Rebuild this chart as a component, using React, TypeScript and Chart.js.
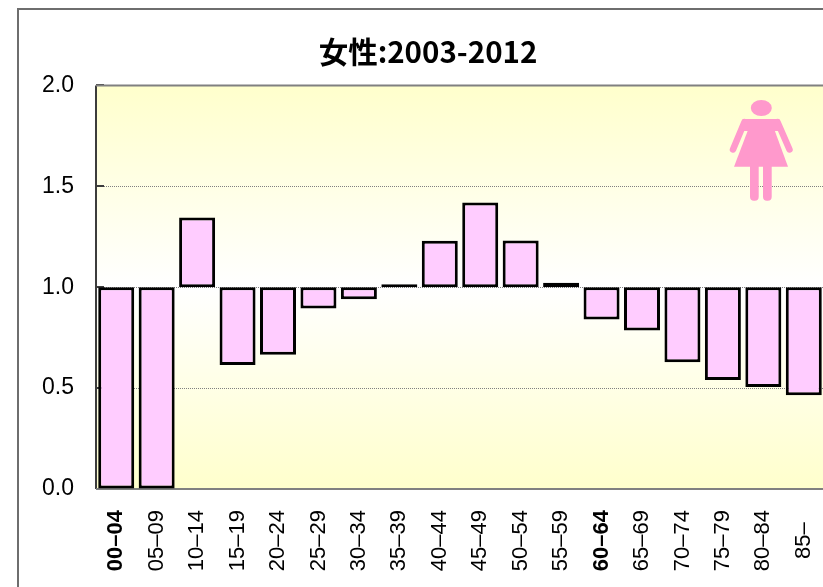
import React, { useEffect, useRef } from "react";
import { Chart, registerables } from "chart.js";

Chart.register(...registerables);

const categories = ["00–04","05–09","10–14","15–19","20–24","25–29","30–34","35–39","40–44","45–49","50–54","55–59","60–64","65–69","70–74","75–79","80–84","85–"];
const ratios = [0,0,1.345,0.615,0.665,0.895,0.94,1.015,1.23,1.42,1.232,1.022,0.84,0.785,0.628,0.54,0.505,0.465];
const baseline = 1;
const titleText = "女性:2003-2012";
const labelFont = "'Liberation Sans', Arial, sans-serif";

const decor = {
  id: "decor",
  beforeDraw(chart: any) {
    const { ctx, chartArea: a } = chart;
    ctx.save();
    ctx.fillStyle = "#ffffff";
    ctx.fillRect(0, 0, chart.width, chart.height);
    ctx.strokeStyle = "#6e6e6e";
    ctx.lineWidth = 2;
    ctx.beginPath();
    ctx.moveTo(18, chart.height);
    ctx.lineTo(18, 9);
    ctx.lineTo(chart.width, 9);
    ctx.stroke();
    const g = ctx.createLinearGradient(0, a.top, 0, a.bottom);
    g.addColorStop(0, "#ffffcc");
    g.addColorStop(0.5, "#ffffff");
    g.addColorStop(1, "#ffffcc");
    ctx.fillStyle = g;
    ctx.fillRect(a.left, a.top, a.right - a.left, a.bottom - a.top);
    ctx.restore();
  },
  beforeDatasetsDraw(chart: any) {
    const { ctx, chartArea: a, scales } = chart;
    ctx.save();
    ctx.strokeStyle = "#3c3c3c";
    ctx.lineWidth = 2;
    [0.5, 1, 1.5, 2].forEach((v) => {
      const y = Math.round(scales.y.getPixelForValue(v));
      ctx.beginPath();
      ctx.moveTo(a.left, y);
      ctx.lineTo(a.left + 8, y);
      ctx.stroke();
    });
    ctx.beginPath();
    ctx.moveTo(a.left, a.top);
    ctx.lineTo(a.left, a.bottom);
    ctx.stroke();
    ctx.strokeStyle = "#808080";
    ctx.beginPath();
    ctx.moveTo(a.left, a.top);
    ctx.lineTo(a.right, a.top);
    ctx.moveTo(a.left, a.bottom);
    ctx.lineTo(a.right, a.bottom);
    ctx.stroke();
    ctx.restore();
    // pictogram
    ctx.save();
    ctx.fillStyle = "#ff99cc";
    ctx.strokeStyle = "#ff99cc";
    ctx.beginPath();
    ctx.ellipse(761.3, 108, 10.5, 8, 0, 0, Math.PI * 2);
    ctx.fill();
    ctx.lineCap = "round";
    ctx.lineJoin = "round";
    ctx.lineWidth = 6.5;
    ctx.beginPath();
    ctx.moveTo(744.5, 122);
    ctx.lineTo(733, 149.5);
    ctx.moveTo(777.5, 122);
    ctx.lineTo(789.5, 149.5);
    ctx.stroke();
    ctx.beginPath();
    ctx.roundRect(742, 119, 38, 12, 2);
    ctx.fill();
    ctx.beginPath();
    ctx.moveTo(748, 130);
    ctx.lineTo(734, 166.7);
    ctx.lineTo(788, 166.7);
    ctx.lineTo(774.5, 130);
    ctx.closePath();
    ctx.fill();
    ctx.beginPath();
    ctx.roundRect(750, 160, 8.7, 40.7, 4);
    ctx.roundRect(763, 160, 8.7, 40.7, 4);
    ctx.fill();
    ctx.restore();
  },
};

export default function App() {
  const ref = useRef<HTMLCanvasElement>(null);
  useEffect(() => {
    const chart = new Chart(ref.current!, {
      type: "bar",
      data: {
        labels: categories,
        datasets: [
          {
            data: ratios.map((v) => [baseline, v]) as any,
            backgroundColor: "#ffccff",
            borderColor: "#000000",
            borderWidth: 3,
            borderSkipped: false,
            barPercentage: 0.89,
            categoryPercentage: 1,
          },
        ],
      },
      options: {
        responsive: false,
        animation: false,
        plugins: {
          legend: { display: false },
          tooltip: { enabled: false },
          title: {
            display: true,
            text: titleText,
            color: "#000000",
            font: { family: "'Noto Sans CJK JP', sans-serif", size: 29.5, weight: "bold" },
            padding: { top: 34, bottom: 16 },
          },
        },
        scales: {
          x: {
            offset: true,
            border: { display: false },
            grid: { display: false, drawTicks: false },
            afterFit(s: any) { s.height = 98; },
            ticks: {
              color: "#000000",
              font: (c: any) => ({ family: labelFont, size: 22, weight: c.index === 0 || c.index === 12 ? "bold" : "normal" }),
              minRotation: 90,
              maxRotation: 90,
              autoSkip: false,
              padding: 21,
              callback(this: any, _v: any, i: number) {
                const t = categories[i];
                return t.length < 5 ? t + "  " : t;
              },
            },
          },
          y: {
            min: 0,
            max: 2,
            border: { display: false, dash: [1, 1] },
            grid: {
              drawTicks: false,
              color: (c: any) => (c.tick.value === 0.5 || c.tick.value === 1.5 || c.tick.value === 1 ? "#808080" : "transparent"),
              lineWidth: 1,
            },
            afterFit(s: any) { s.width = 96; },
            ticks: {
              stepSize: 0.5,
              color: "#000000",
              padding: 22,
              font: { family: labelFont, size: 23 },
              callback: (v: any) => Number(v).toFixed(1),
            },
          },
          yRight: {
            position: "right",
            min: 0,
            max: 2,
            border: { display: false },
            grid: { display: false, drawTicks: false },
            ticks: { display: false },
            afterFit(s: any) { s.width = 32; },
          },
        },
      },
      plugins: [decor],
    });
    return () => chart.destroy();
  }, []);
  return (
    <div style={{ position: "fixed", left: 0, top: 0, width: 823, height: 587, overflow: "hidden" }}>
      <canvas ref={ref} width={856} height={587} style={{ display: "block" }} />
    </div>
  );
}
